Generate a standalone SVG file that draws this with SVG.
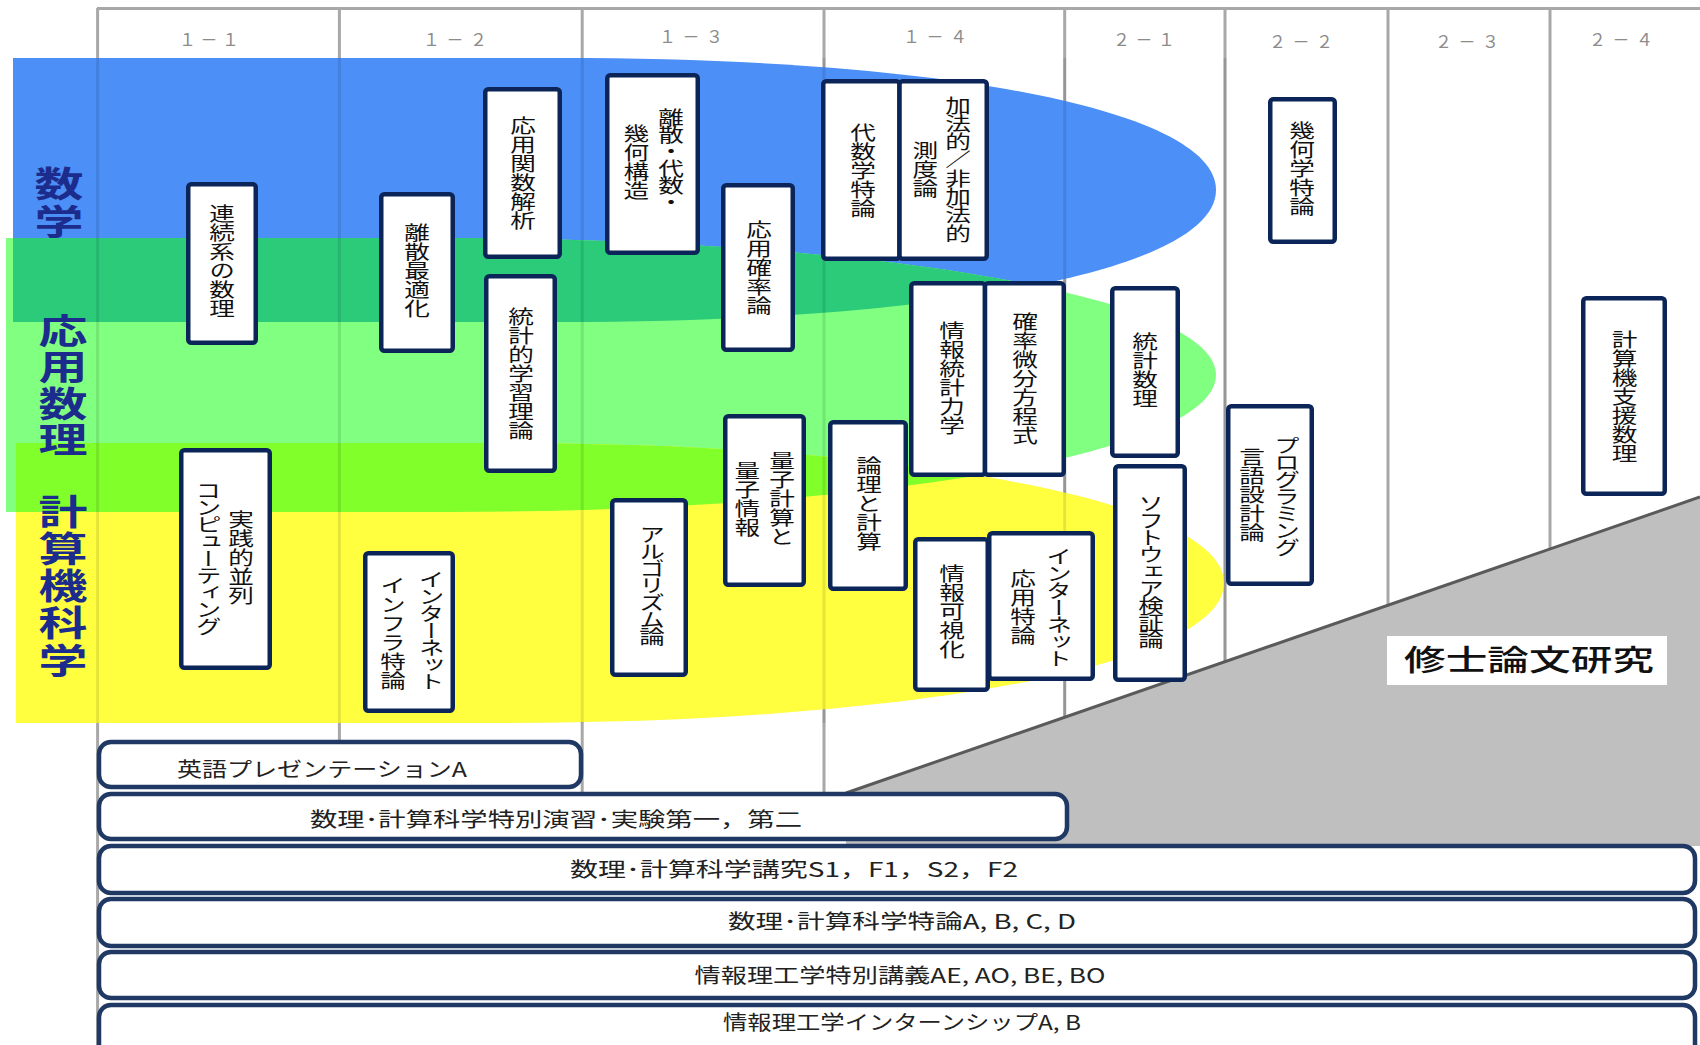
<svg xmlns="http://www.w3.org/2000/svg" width="1700" height="1045" viewBox="0 0 1700 1045">
<style>
.gl{stroke:#A8A8A8;stroke-width:3;fill:none}
.ov{stroke:#000;stroke-opacity:0.1;stroke-width:3;fill:none}
.box{fill:#fff;stroke:#0B2559;stroke-width:4.5}
.bar{fill:#fff;stroke:#1F3864;stroke-width:4.5}
.vt{font-family:'Noto Sans CJK JP','Noto Sans CJK SC',sans-serif;font-size:19px;writing-mode:vertical-rl;text-anchor:middle;fill:#111}
.vk{letter-spacing:-2px}
.bt{font-family:'Noto Sans CJK JP','Noto Sans CJK SC',sans-serif;font-size:20px;text-anchor:middle;fill:#222}
.hd{font-family:'Noto Sans CJK JP','Noto Sans CJK SC',sans-serif;font-size:17px;text-anchor:middle;fill:#8C8C8C}
.lb{font-family:'Noto Sans CJK JP','Noto Sans CJK SC',sans-serif;font-size:35px;font-weight:bold;writing-mode:vertical-rl;text-anchor:middle;fill:#1C2C8C}
</style>
<defs>
<path id="bandBlue" d="M13,58 H560 C950,58 1216,111 1216,190 C1216,269 950,322 560,322 H13 Z"/>
<path id="bandGreen" d="M6,238 H450 C850,238 1216,293 1216,375 C1216,457 850,512 450,512 H6 Z"/>
<path id="bandYellow" d="M16,443 H500 C900,443 1224,499 1224,583 C1224,667 900,723 500,723 H16 Z"/>
<clipPath id="clipBlue"><use href="#bandBlue"/></clipPath>
<clipPath id="clipYellow"><use href="#bandYellow"/></clipPath>
</defs>
<rect width="1700" height="1045" fill="#fff"/>
<g id="grid">
<line class="gl" x1="97" y1="8.5" x2="1700" y2="8.5" stroke-width="2"/>
<line class="gl" x1="97.6" y1="8" x2="97.6" y2="1045"/>
<line class="gl" x1="339.4" y1="8" x2="339.4" y2="742"/>
<line class="gl" x1="582.2" y1="8" x2="582.2" y2="794"/>
<line class="gl" x1="824" y1="8" x2="824" y2="794"/>
<line class="gl" x1="1064.7" y1="8" x2="1064.7" y2="800"/>
<line class="gl" x1="1225" y1="8" x2="1225" y2="800"/>
<line class="gl" x1="1388" y1="8" x2="1388" y2="800"/>
<line class="gl" x1="1550" y1="8" x2="1550" y2="800"/>
</g>
<g id="bands">
<use href="#bandBlue" fill="#4C8FF6"/>
<use href="#bandGreen" fill="#80FF80"/>
<use href="#bandYellow" fill="#FFFF40"/>
<use href="#bandGreen" fill="#2BCB7A" clip-path="url(#clipBlue)"/>
<use href="#bandGreen" fill="#80FF2A" clip-path="url(#clipYellow)"/>
</g>
<g id="grid-overlay">
<line class="ov" x1="97.6" y1="58" x2="97.6" y2="723"/>
<line class="ov" x1="339.4" y1="58" x2="339.4" y2="723"/>
<line class="ov" x1="582.2" y1="58" x2="582.2" y2="723"/>
<line class="ov" x1="824" y1="58" x2="824" y2="723"/>
<line class="ov" x1="1064.7" y1="58" x2="1064.7" y2="723"/>
<line class="ov" x1="1225" y1="58" x2="1225" y2="723"/>
</g>
<g id="headers">
<text class="hd" x="209" y="46" textLength="60">１－１</text>
<text class="hd" x="455" y="46" textLength="64">１－２</text>
<text class="hd" x="691" y="43" textLength="64">１－３</text>
<text class="hd" x="935" y="43" textLength="64">１－４</text>
<text class="hd" x="1144" y="46" textLength="62">２－１</text>
<text class="hd" x="1301" y="48" textLength="64">２－２</text>
<text class="hd" x="1467" y="48" textLength="64">２－３</text>
<text class="hd" x="1621" y="46" textLength="64">２－４</text>
</g>
<g id="area-labels">
<text class="lb" transform="translate(59,204) scale(1.4,1)" letter-spacing="3">数学</text>
<text class="lb" transform="translate(63,386) scale(1.4,1)" letter-spacing="1.5">応用数理</text>
<text class="lb" transform="translate(63,587) scale(1.4,1)" letter-spacing="2.2">計算機科学</text>
</g>
<g id="thesis">
<polygon points="846,793 1700,497 1700,846 846,846" fill="#BFBFBF"/>
<line x1="846" y1="793" x2="1700" y2="497" stroke="#5A5A5A" stroke-width="3"/>
<rect x="1387" y="636" width="280" height="49" fill="#fff"/>
<text x="1529" y="671" font-family="'Noto Sans CJK JP','Noto Sans CJK SC',sans-serif" font-size="29" font-weight="500" text-anchor="middle" textLength="250" lengthAdjust="spacingAndGlyphs" fill="#111">修士論文研究</text>
</g>
<g id="n-renzoku"><rect class="box" x="188.25" y="184.25" width="67.5" height="158.5" rx="3"/><text class="vt" transform="translate(222,261) scale(1.35,1)">連続系の数理</text></g>
<g id="n-risan-saiteki"><rect class="box" x="381.25" y="194.25" width="71.5" height="156.5" rx="3"/><text class="vt" transform="translate(417,271) scale(1.35,1)">離散最適化</text></g>
<g id="n-ouyou-kansu"><rect class="box" x="485.25" y="89.25" width="74.5" height="167.5" rx="3"/><text class="vt" transform="translate(523,173) scale(1.35,1)">応用関数解析</text></g>
<g id="n-toukei-gakushu"><rect class="box" x="486.25" y="276.25" width="68.5" height="194.5" rx="3"/><text class="vt" transform="translate(521,374) scale(1.35,1)">統計的学習理論</text></g>
<g id="n-heiretsu"><rect class="box" x="181.25" y="450.25" width="88.5" height="217.5" rx="3"/><text class="vt" transform="translate(241,558) scale(1.35,1)">実践的並列</text><text class="vt vk" transform="translate(208.6,558) scale(1.35,1)">コンピューティング</text></g>
<g id="n-infra"><rect class="box" x="365.25" y="553.25" width="87.5" height="157.5" rx="3"/><text class="vt vk" transform="translate(431.6,630) scale(1.35,1)">インターネット</text><text class="vt" transform="translate(393,633) scale(1.35,1)">インフラ特論</text></g>
<g id="n-risan-kozo"><rect class="box" x="607.25" y="75.25" width="90.5" height="177.5" rx="3"/><text class="vt vk" transform="translate(671,159) scale(1.35,1)">離散・代数・</text><text class="vt" transform="translate(636.4,162.5) scale(1.35,1)">幾何構造</text></g>
<g id="n-ouyou-kakuritsu"><rect class="box" x="723.25" y="185.25" width="69.5" height="164.5" rx="3"/><text class="vt" transform="translate(759,268) scale(1.35,1)">応用確率論</text></g>
<g id="n-daisu"><rect class="box" x="823.25" y="81.25" width="76.25" height="177.5" rx="3"/><text class="vt" transform="translate(863,171) scale(1.35,1)">代数学特論</text></g>
<g id="n-sokudo"><rect class="box" x="899.5" y="81.25" width="87.25" height="177.5" rx="3"/><text class="vt" transform="translate(958,169) scale(1.35,1)" letter-spacing="-0.7">加法的／非加法的</text><text class="vt" transform="translate(925.4,170) scale(1.35,1)">測度論</text></g>
<g id="n-joho-toukei"><rect class="box" x="911.25" y="283.25" width="73.75" height="191.5" rx="3"/><text class="vt" transform="translate(952,378) scale(1.35,1)">情報統計力学</text></g>
<g id="n-kakuritsu-bibun"><rect class="box" x="985" y="283.25" width="78.75" height="191.5" rx="3"/><text class="vt" transform="translate(1025,379) scale(1.35,1)">確率微分方程式</text></g>
<g id="n-toukei-suri"><rect class="box" x="1112.25" y="288.25" width="65.5" height="167.5" rx="3"/><text class="vt" transform="translate(1145,370) scale(1.35,1)">統計数理</text></g>
<g id="n-software"><rect class="box" x="1115.25" y="466.25" width="69.5" height="213.5" rx="3"/><text class="vt vk" transform="translate(1151,571) scale(1.35,1)">ソフトウェア検証論</text></g>
<g id="n-ryoshi"><rect class="box" x="725.25" y="416.25" width="78.5" height="168.5" rx="3"/><text class="vt" transform="translate(782,499) scale(1.35,1)">量子計算と</text><text class="vt" transform="translate(747.4,499) scale(1.35,1)">量子情報</text></g>
<g id="n-algorithm"><rect class="box" x="612.25" y="500.25" width="73.5" height="174.5" rx="3"/><text class="vt vk" transform="translate(652,585) scale(1.35,1)">アルゴリズム論</text></g>
<g id="n-ronri"><rect class="box" x="830.25" y="422.25" width="75.5" height="166.5" rx="3"/><text class="vt" transform="translate(869,504) scale(1.35,1)">論理と計算</text></g>
<g id="n-kashika"><rect class="box" x="915.25" y="539.25" width="72.5" height="150.5" rx="3"/><text class="vt" transform="translate(952,612) scale(1.35,1)">情報可視化</text></g>
<g id="n-internet-ouyou"><rect class="box" x="989.25" y="533.25" width="103.5" height="145.5" rx="3"/><text class="vt vk" transform="translate(1059,607) scale(1.35,1)">インターネット</text><text class="vt" transform="translate(1023,607) scale(1.35,1)">応用特論</text></g>
<g id="n-kika"><rect class="box" x="1270.25" y="99.25" width="64.5" height="142.5" rx="3"/><text class="vt" transform="translate(1302,169) scale(1.35,1)">幾何学特論</text></g>
<g id="n-programming"><rect class="box" x="1228.25" y="406.25" width="83.5" height="177.5" rx="3"/><text class="vt vk" transform="translate(1287,496) scale(1.35,1)">プログラミング</text><text class="vt" transform="translate(1252,495) scale(1.35,1)">言語設計論</text></g>
<g id="n-keisanki-shien"><rect class="box" x="1583.25" y="298.25" width="81.5" height="195.5" rx="3"/><text class="vt" transform="translate(1624.6,397) scale(1.35,1)">計算機支援数理</text></g>
<g id="b-eigo"><rect class="bar" x="99" y="742" width="482" height="45" rx="12"/><text class="bt" x="322" y="777" textLength="290" lengthAdjust="spacingAndGlyphs">英語プレゼンテーションA</text></g>
<g id="b-enshu"><rect class="bar" x="99" y="794" width="968" height="45" rx="12"/><text class="bt" x="556" y="827" textLength="492" lengthAdjust="spacingAndGlyphs">数理･計算科学特別演習･実験第一，第二</text></g>
<g id="b-kokyu"><rect class="bar" x="99" y="846" width="1596" height="47" rx="12"/><text class="bt" x="794" y="877" textLength="448" lengthAdjust="spacingAndGlyphs">数理･計算科学講究S1，F1，S2，F2</text></g>
<g id="b-tokuron"><rect class="bar" x="99" y="899" width="1596" height="47" rx="12"/><text class="bt" x="902" y="929" textLength="348" lengthAdjust="spacingAndGlyphs">数理･計算科学特論A, B, C, D</text></g>
<g id="b-kogi"><rect class="bar" x="99" y="952" width="1596" height="46" rx="12"/><text class="bt" x="900" y="983" textLength="411" lengthAdjust="spacingAndGlyphs">情報理工学特別講義AE, AO, BE, BO</text></g>
<g id="b-intern"><rect class="bar" x="99" y="1005" width="1596" height="55" rx="12"/><text class="bt" x="902" y="1030" textLength="358" lengthAdjust="spacingAndGlyphs">情報理工学インターンシップA, B</text></g>
</svg>
